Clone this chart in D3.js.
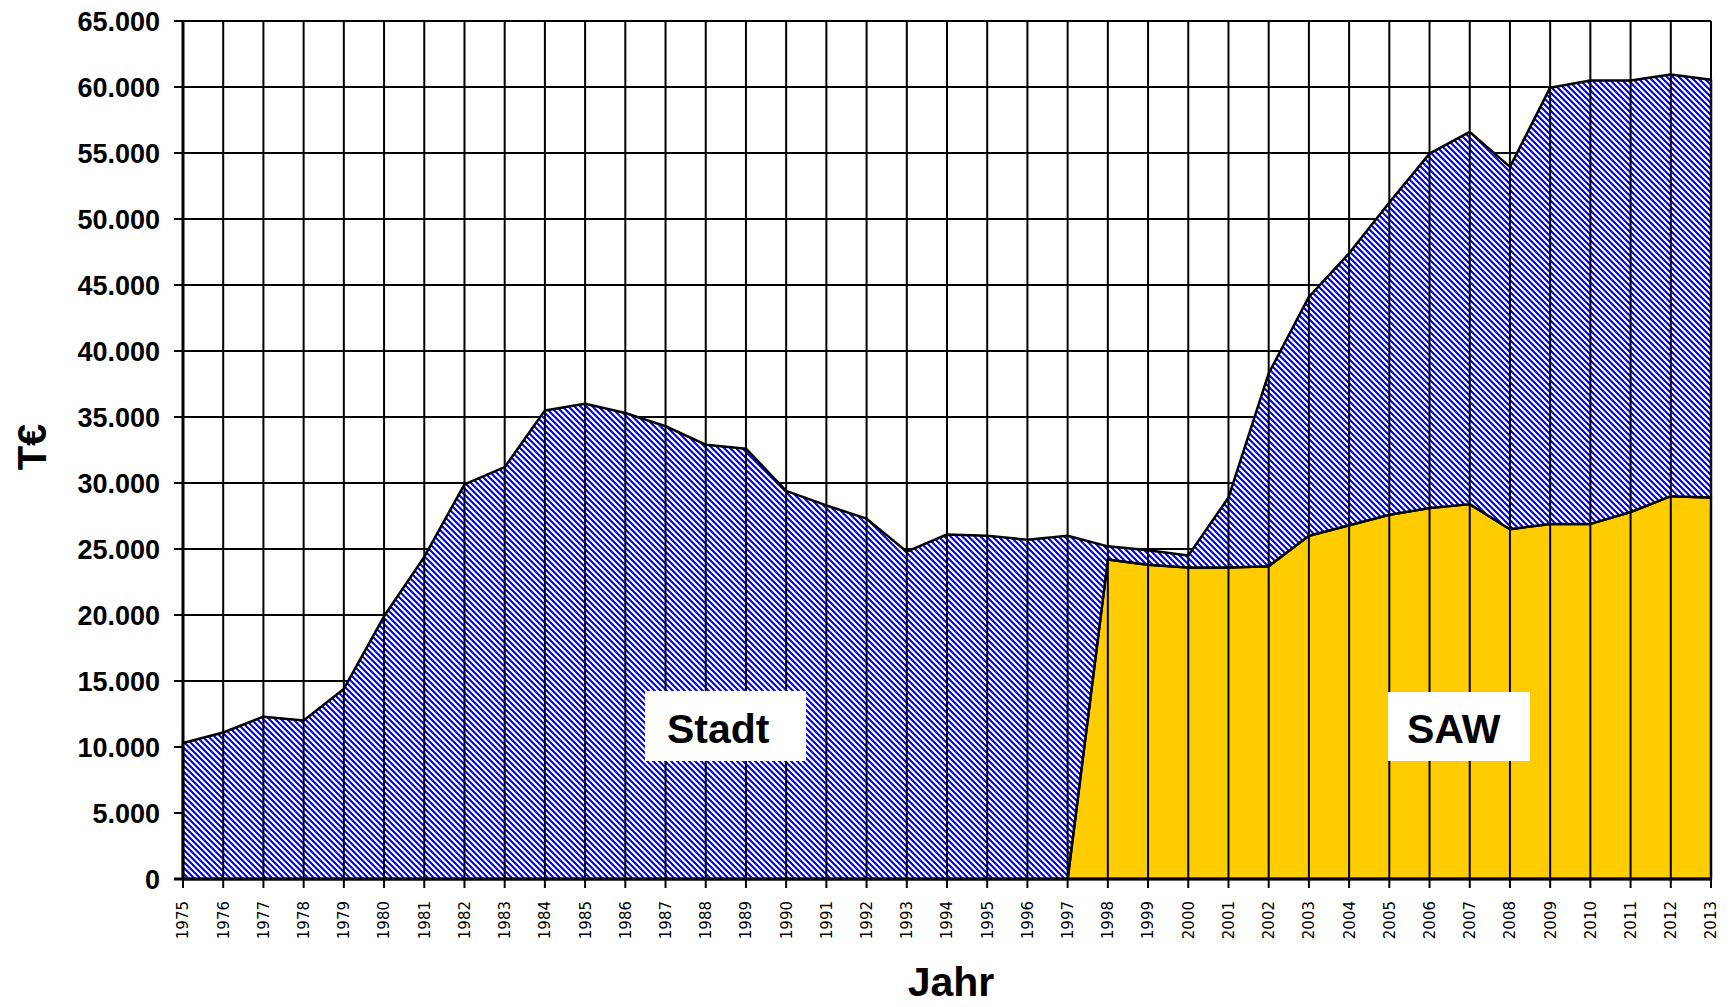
<!DOCTYPE html>
<html>
<head>
<meta charset="utf-8">
<script src="https://cdn.jsdelivr.net/npm/d3@7"></script>
<style>
  body { margin: 0; background: #fff; }
  text { font-family: "Liberation Sans", Arial, sans-serif; }
</style>
</head>
<body>
<div id="chart"></div>
<script>
// years on the category axis
var years = [1975, 1976, 1977, 1978, 1979, 1980, 1981, 1982, 1983, 1984,
             1985, 1986, 1987, 1988, 1989, 1990, 1991, 1992, 1993, 1994,
             1995, 1996, 1997, 1998, 1999, 2000, 2001, 2002, 2003, 2004,
             2005, 2006, 2007, 2008, 2009, 2010, 2011, 2012, 2013];

// Stadt (T€), stacked on top of SAW
var stadt = [10300, 11100, 12300, 12000, 14400, 19900, 24400, 29900, 31200, 35500,
             36000, 35300, 34300, 32900, 32600, 29400, 28300, 27300, 24800, 26100,
             26000, 25700, 26000, 1000, 1100, 900, 5300, 14600, 18100, 20600,
             23650, 26850, 28200, 27450, 33050, 33600, 32700, 31950, 31650];

// SAW (T€)
var saw = [0, 0, 0, 0, 0, 0, 0, 0, 0, 0,
           0, 0, 0, 0, 0, 0, 0, 0, 0, 0,
           0, 0, 0, 24200, 23800, 23600, 23600, 23700, 26000, 26800,
           27600, 28100, 28400, 26500, 26900, 26900, 27800, 29000, 28900];

var yTicks = [0, 5000, 10000, 15000, 20000, 25000, 30000, 35000, 40000, 45000, 50000, 55000, 60000, 65000];

var margin = {top: 21, right: 20, bottom: 128, left: 183},
    width = 1731 - margin.left - margin.right,
    height = 1007 - margin.top - margin.bottom;

var svgRoot = d3.select("#chart")
  .append("svg")
    .attr("width", 1731)
    .attr("height", 1007);

// hatch for the Stadt area
var defs = svgRoot.append("defs");
var pat = defs.append("pattern")
    .attr("id", "hatch")
    .attr("patternUnits", "userSpaceOnUse")
    .attr("width", 6)
    .attr("height", 6);
pat.append("rect").attr("width", 6).attr("height", 6).attr("fill", "#fff");
pat.append("path")
    .attr("d", "M-1,-1 L7,7 M-1,5 L1,7 M5,-1 L7,1")
    .attr("stroke", "#0000ff")
    .attr("stroke-width", 2.1);

var svg = svgRoot.append("g")
    .attr("transform", "translate(" + margin.left + "," + margin.top + ")");

var x = d3.scalePoint().domain(years).range([0, width]);
var y = d3.scaleLinear().domain([0, 65000]).range([height, 0]);

var de = d3.formatLocale({decimal: ",", thousands: ".", grouping: [3], currency: ["", " €"]});
var fmt = de.format(",d");

// horizontal gridlines (behind the areas)
svg.append("g")
  .selectAll("line")
  .data(yTicks)
  .enter()
  .append("line")
    .attr("x1", -9)
    .attr("x2", width)
    .attr("y1", function(d) { return y(d); })
    .attr("y2", function(d) { return y(d); })
    .attr("stroke", "#000")
    .attr("stroke-width", 2);

// stacked areas
var table = years.map(function(yr, i) { return {year: yr, saw: saw[i], stadt: stadt[i]}; });
var series = d3.stack().keys(["saw", "stadt"])(table);
var fills = {saw: "#ffcc00", stadt: "url(#hatch)"};

var area = d3.area()
    .x(function(d) { return x(d.data.year); })
    .y0(function(d) { return y(d[0]); })
    .y1(function(d) { return y(d[1]); });

svg.append("g")
  .selectAll("path")
  .data(series)
  .enter()
  .append("path")
    .attr("d", area)
    .attr("fill", function(d) { return fills[d.key]; })
    .attr("stroke", "#000")
    .attr("stroke-width", 2.5)
    .attr("stroke-linejoin", "round");

// vertical lines per year (drawn over the areas)
svg.append("g")
  .selectAll("line")
  .data(years)
  .enter()
  .append("line")
    .attr("x1", function(d) { return x(d); })
    .attr("x2", function(d) { return x(d); })
    .attr("y1", 0)
    .attr("y2", height + 9)
    .attr("stroke", "#000")
    .attr("stroke-width", 2);

// axis lines
svg.append("line")
    .attr("x1", 0).attr("x2", 0)
    .attr("y1", 0).attr("y2", height)
    .attr("stroke", "#000").attr("stroke-width", 3);
svg.append("line")
    .attr("x1", -9).attr("x2", width)
    .attr("y1", height).attr("y2", height)
    .attr("stroke", "#000").attr("stroke-width", 3);

// y labels
svg.append("g")
  .selectAll("text")
  .data(yTicks)
  .enter()
  .append("text")
    .attr("x", -23)
    .attr("y", function(d) { return y(d); })
    .attr("dy", "0.36em")
    .attr("text-anchor", "end")
    .style("font-size", "27px")
    .style("font-weight", "bold")
    .text(function(d) { return fmt(d); });

// x labels, rotated
svg.append("g")
  .selectAll("text")
  .data(years)
  .enter()
  .append("text")
    .attr("transform", function(d) { return "translate(" + x(d) + "," + (height + 22) + ") rotate(-90)"; })
    .attr("dy", "0.36em")
    .attr("text-anchor", "end")
    .style("font-family", "'DejaVu Sans', sans-serif")
    .style("font-size", "15px")
    .text(function(d) { return d; });

// axis titles
svgRoot.append("text")
    .attr("transform", "translate(32,447) rotate(-90)")
    .attr("dy", "0.36em")
    .attr("text-anchor", "middle")
    .style("font-size", "40px")
    .style("font-weight", "bold")
    .text("T€");

svgRoot.append("text")
    .attr("x", margin.left + width / 2 + 4)
    .attr("y", 996)
    .attr("text-anchor", "middle")
    .style("font-size", "41px")
    .style("font-weight", "bold")
    .text("Jahr");

// series labels in white boxes
var boxes = [
  {label: "Stadt", x: 645, y: 691, w: 161, h: 70, tx: 667},
  {label: "SAW", x: 1388, y: 692, w: 142, h: 69, tx: 1407}
];
var lab = svgRoot.append("g")
  .selectAll("g")
  .data(boxes)
  .enter()
  .append("g");
lab.append("rect")
    .attr("x", function(d) { return d.x; })
    .attr("y", function(d) { return d.y; })
    .attr("width", function(d) { return d.w; })
    .attr("height", function(d) { return d.h; })
    .attr("fill", "#fff");
lab.append("text")
    .attr("x", function(d) { return d.tx; })
    .attr("y", 743)
    .style("font-size", "41px")
    .style("font-weight", "bold")
    .text(function(d) { return d.label; });
</script>
</body>
</html>
